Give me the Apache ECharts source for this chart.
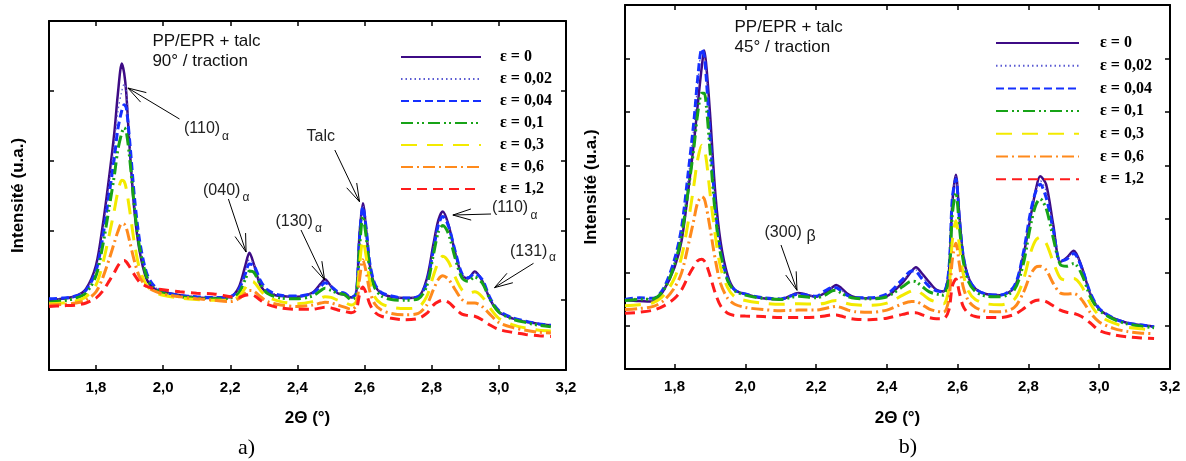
<!DOCTYPE html>
<html><head><meta charset="utf-8">
<script src="https://cdn.jsdelivr.net/npm/echarts@6/dist/echarts.min.js"></script>
<style>html,body{margin:0;padding:0;background:#fff}#c{width:1186px;height:461px}</style>
</head><body><div id="c"></div>
<script>
// shared 2θ sample positions
const X = [1.66,1.70,1.74,1.77,1.80,1.82,1.84,1.855,1.865,1.877,
  1.884,1.89,1.90,1.915,1.93,1.95,1.97,2.00,2.05,2.10,
  2.15,2.20,2.225,2.245,2.257,2.27,2.29,2.31,2.35,2.40,
  2.445,2.47,2.482,2.50,2.52,2.54,2.56,2.575,2.585,2.595,
  2.605,2.615,2.63,2.65,2.68,2.72,2.76,2.785,2.805,2.82,
  2.833,2.85,2.87,2.89,2.908,2.928,2.95,2.975,3.00,3.04,
  3.08,3.12,3.155];

const names = ['ε = 0','ε = 0,02','ε = 0,04','ε = 0,1','ε = 0,3','ε = 0,6','ε = 1,2'];

// Panel a) 90° / traction
const A_e0 = [1.00,1.02,1.06,1.16,1.50,2.07,2.80,3.42,3.95,4.39,
  4.25,3.98,3.20,2.25,1.70,1.31,1.18,1.12,1.07,1.04,
  1.03,1.05,1.18,1.50,1.68,1.52,1.21,1.11,1.06,1.05,
  1.11,1.24,1.30,1.20,1.10,1.08,1.04,1.10,1.95,2.39,
  2.00,1.52,1.22,1.10,1.05,1.03,1.05,1.30,1.80,2.15,
  2.27,2.08,1.68,1.36,1.31,1.41,1.28,1.00,0.83,0.74,
  0.69,0.66,0.64];
const A_e002 = [1.01,1.02,1.06,1.15,1.45,1.98,2.70,3.25,3.70,4.00,
  4.10,4.02,3.35,2.40,1.80,1.38,1.21,1.12,1.07,1.05,
  1.04,1.05,1.16,1.42,1.58,1.52,1.26,1.14,1.07,1.06,
  1.10,1.22,1.27,1.20,1.11,1.09,1.04,1.10,1.92,2.36,
  2.02,1.54,1.23,1.11,1.06,1.03,1.05,1.27,1.76,2.10,
  2.22,2.07,1.69,1.37,1.32,1.39,1.29,1.01,0.84,0.75,
  0.70,0.66,0.64];
const A_e004 = [1.02,1.03,1.06,1.14,1.42,1.90,2.55,3.05,3.45,3.72,
  3.80,3.76,3.30,2.45,1.85,1.40,1.22,1.12,1.07,1.05,
  1.04,1.05,1.15,1.38,1.52,1.50,1.28,1.15,1.07,1.06,
  1.10,1.20,1.25,1.20,1.12,1.10,1.04,1.10,1.90,2.34,
  2.02,1.55,1.24,1.11,1.06,1.03,1.05,1.25,1.72,2.08,
  2.20,2.06,1.70,1.38,1.32,1.38,1.30,1.02,0.85,0.75,
  0.70,0.66,0.64];
const A_e01 = [0.97,0.99,1.03,1.10,1.35,1.78,2.35,2.80,3.15,3.40,
  3.47,3.42,3.05,2.30,1.75,1.35,1.18,1.10,1.05,1.03,
  1.02,1.03,1.10,1.30,1.42,1.40,1.22,1.10,1.03,1.02,
  1.06,1.14,1.17,1.14,1.10,1.08,1.01,1.06,1.75,2.20,
  1.90,1.45,1.18,1.06,1.01,1.00,1.02,1.20,1.65,1.98,
  2.07,1.95,1.60,1.32,1.27,1.33,1.25,1.00,0.83,0.73,
  0.68,0.64,0.62];
const A_e03 = [0.95,0.96,0.99,1.05,1.22,1.52,1.95,2.30,2.55,2.72,
  2.70,2.60,2.30,1.80,1.45,1.22,1.13,1.07,1.03,1.01,
  1.00,1.00,1.05,1.18,1.27,1.26,1.14,1.05,0.98,0.95,
  0.98,1.03,1.05,1.04,1.00,0.97,0.93,0.98,1.50,1.86,
  1.62,1.28,1.05,0.95,0.90,0.88,0.90,1.05,1.35,1.55,
  1.63,1.55,1.33,1.15,1.10,1.12,1.05,0.88,0.74,0.65,
  0.60,0.57,0.56];
const A_e06 = [0.93,0.94,0.96,1.00,1.12,1.32,1.60,1.83,1.98,2.10,
  2.09,2.04,1.85,1.55,1.33,1.20,1.14,1.09,1.05,1.02,
  1.00,0.98,1.02,1.10,1.14,1.13,1.05,0.98,0.93,0.91,
  0.93,0.96,0.97,0.96,0.93,0.90,0.87,0.92,1.30,1.58,
  1.40,1.14,0.95,0.86,0.81,0.79,0.81,0.93,1.15,1.30,
  1.35,1.30,1.15,1.01,0.96,0.96,0.91,0.79,0.68,0.61,
  0.57,0.54,0.53];
const A_e12 = [0.91,0.92,0.93,0.96,1.03,1.13,1.28,1.40,1.49,1.56,
  1.57,1.55,1.48,1.36,1.26,1.20,1.17,1.15,1.12,1.10,
  1.09,1.05,1.04,1.07,1.08,1.07,1.00,0.94,0.89,0.87,
  0.87,0.89,0.90,0.89,0.86,0.84,0.82,0.86,1.08,1.19,
  1.10,0.95,0.83,0.77,0.74,0.72,0.74,0.81,0.93,0.98,
  1.00,0.97,0.88,0.80,0.78,0.77,0.72,0.64,0.58,0.54,
  0.51,0.49,0.48];

// Panel b) 45° / traction
const B_e0 = [1.49,1.47,1.46,1.68,2.10,2.60,3.60,4.45,5.10,5.85,
  6.15,5.85,5.00,3.50,2.58,1.95,1.68,1.60,1.52,1.50,
  1.62,1.55,1.62,1.72,1.77,1.72,1.60,1.54,1.52,1.56,
  1.82,2.03,2.10,1.98,1.82,1.68,1.65,2.00,3.30,3.83,
  3.05,2.35,1.92,1.70,1.60,1.58,1.72,2.30,3.00,3.52,
  3.80,3.65,2.90,2.20,2.28,2.41,2.12,1.60,1.32,1.15,
  1.06,1.02,0.99];
const B_e002 = [1.50,1.52,1.51,1.70,2.20,2.78,3.85,4.75,5.50,6.15,
  6.10,5.70,4.75,3.35,2.45,1.90,1.69,1.60,1.53,1.51,
  1.61,1.56,1.64,1.72,1.74,1.68,1.58,1.53,1.53,1.58,
  1.85,2.03,2.05,1.92,1.77,1.67,1.64,2.02,3.35,3.80,
  3.05,2.37,1.91,1.70,1.60,1.58,1.73,2.32,3.05,3.52,
  3.72,3.52,2.85,2.21,2.26,2.38,2.11,1.61,1.33,1.15,
  1.06,1.02,0.99];
const B_e004 = [1.50,1.53,1.52,1.72,2.25,2.85,3.95,4.85,5.60,6.18,
  6.05,5.60,4.60,3.25,2.40,1.88,1.68,1.60,1.53,1.51,
  1.60,1.56,1.66,1.72,1.72,1.66,1.57,1.53,1.53,1.60,
  1.88,2.03,2.02,1.88,1.74,1.66,1.64,2.05,3.40,3.75,
  3.00,2.35,1.90,1.70,1.60,1.58,1.75,2.35,3.10,3.50,
  3.65,3.40,2.80,2.22,2.25,2.36,2.10,1.62,1.33,1.15,
  1.06,1.02,0.99];
const B_e01 = [1.48,1.50,1.51,1.68,2.15,2.70,3.60,4.35,4.95,5.35,
  5.35,5.10,4.30,3.10,2.35,1.85,1.66,1.58,1.52,1.50,
  1.56,1.53,1.58,1.66,1.67,1.62,1.55,1.52,1.51,1.55,
  1.74,1.84,1.83,1.74,1.64,1.60,1.58,1.90,3.10,3.49,
  2.85,2.25,1.84,1.65,1.56,1.55,1.68,2.15,2.85,3.25,
  3.38,3.20,2.65,2.15,2.12,2.17,1.98,1.55,1.30,1.13,
  1.04,1.00,0.97];
const B_e03 = [1.38,1.40,1.44,1.58,1.90,2.30,3.00,3.65,4.10,4.38,
  4.30,4.10,3.50,2.70,2.10,1.72,1.55,1.48,1.43,1.41,
  1.42,1.41,1.43,1.47,1.48,1.46,1.42,1.40,1.39,1.43,
  1.58,1.66,1.67,1.60,1.50,1.45,1.42,1.70,2.60,2.97,
  2.50,2.00,1.66,1.50,1.42,1.40,1.50,1.85,2.35,2.60,
  2.66,2.55,2.20,1.90,1.86,1.89,1.75,1.42,1.20,1.06,
  0.98,0.95,0.93];
const B_e06 = [1.31,1.33,1.37,1.48,1.72,2.00,2.55,3.00,3.30,3.42,
  3.38,3.22,2.85,2.25,1.80,1.52,1.41,1.35,1.31,1.29,
  1.30,1.30,1.33,1.36,1.37,1.35,1.30,1.27,1.26,1.30,
  1.42,1.46,1.46,1.40,1.32,1.28,1.26,1.50,2.25,2.55,
  2.15,1.75,1.48,1.35,1.28,1.27,1.35,1.62,1.95,2.10,
  2.12,2.05,1.80,1.62,1.60,1.61,1.50,1.25,1.08,0.96,
  0.90,0.87,0.86];
const B_e12 = [1.24,1.26,1.30,1.38,1.52,1.68,1.95,2.12,2.22,2.25,
  2.22,2.15,1.95,1.62,1.38,1.24,1.20,1.19,1.18,1.16,
  1.16,1.17,1.19,1.21,1.21,1.19,1.15,1.13,1.12,1.15,
  1.22,1.25,1.25,1.21,1.16,1.14,1.14,1.30,1.75,1.88,
  1.62,1.38,1.24,1.18,1.16,1.16,1.22,1.32,1.43,1.48,
  1.49,1.46,1.38,1.30,1.26,1.24,1.18,1.06,0.92,0.84,
  0.80,0.78,0.77];

const xTicks = [1.8,2.0,2.2,2.4,2.6,2.8,3.0,3.2];
const yTicksA = [1,2,3,4];
const yTicksB = [1,2,3,4,5,6];

const seriesA = [A_e0,A_e002,A_e004,A_e01,A_e03,A_e06,A_e12];
const seriesB = [B_e0,B_e002,B_e004,B_e01,B_e03,B_e06,B_e12];

const styles = [
  {color:'#3d0b85', width:2.5, type:'solid'},
  {color:'#5a5ad2', width:1.3, type:[1.5,3]},
  {color:'#1530ff', width:3, type:[8,4]},
  {color:'#17a317', width:3, type:[12,4,2,3,2,4]},
  {color:'#f3ea00', width:3, type:[16,10]},
  {color:'#ff8a1c', width:3, type:[12,4,2,4]},
  {color:'#ff1c1c', width:3, type:[10,6]}
];

const SANS = 'Liberation Sans, Arial, sans-serif';
const SERIF = 'Liberation Serif, Times New Roman, serif';

function xAx(grid, pos, show, gap){
  return {
    gridIndex:grid, type:'value', min:1.66, max:3.2, position:pos,
    axisLine:{show:true, onZero:false, lineStyle:{color:'#000', width:2}},
    axisTick:{show:true, inside:true, length:5, customValues:xTicks, lineStyle:{color:'#000', width:1.5}},
    axisLabel:{show:show, customValues:xTicks, margin:10,
      formatter:v=>v.toFixed(1).replace('.',','),
      fontFamily:SANS, fontWeight:'bold', fontSize:15, color:'#000'},
    splitLine:{show:false},
    name: show ? '2Θ (°)' : '', nameLocation:'middle', nameGap:gap,
    nameTextStyle:{fontFamily:SANS, fontWeight:'bold', fontSize:17, color:'#000'}
  };
}
function yAx(grid, pos, min, max, ticks, gap){
  return {
    gridIndex:grid, type:'value', min:min, max:max, position:pos,
    axisLine:{show:true, onZero:false, lineStyle:{color:'#000', width:2}},
    axisTick:{show:true, inside:true, length:5, customValues:ticks, lineStyle:{color:'#000', width:1.5}},
    axisLabel:{show:false},
    splitLine:{show:false},
    name: pos==='left' ? 'Intensité (u.a.)' : '', nameLocation:'middle', nameGap:gap,
    nameTextStyle:{fontFamily:SANS, fontWeight:'bold', fontSize:17, color:'#000'}
  };
}

function mk(arrs, gi){
  return arrs.map((arr,k)=>({
    type:'line', name:names[k], xAxisIndex:gi*2, yAxisIndex:gi*2,
    data:X.map((x,i)=>[x, arr[i]]),
    showSymbol:false, symbol:'none', smooth:0.3,
    legendIcon:'line',
    lineStyle:{color:styles[k].color, width:styles[k].width, type:styles[k].type, cap:'butt'},
    itemStyle:{color:styles[k].color},
    silent:true, animation:false
  }));
}

const legendBase = {
  data:names, orient:'vertical', selectedMode:false, itemHeight:14,
  itemStyle:{opacity:0},
  textStyle:{fontFamily:SERIF, fontWeight:'bold', fontSize:16, color:'#000'}
};

const chart = echarts.init(document.getElementById('c'), null, {renderer:'canvas'});
chart.setOption({
  animation:false,
  backgroundColor:'#fff',
  grid:[
    {left:49, top:21, width:517, height:349},
    {left:625, top:5, width:545, height:364}
  ],
  xAxis:[xAx(0,'bottom',true,40), xAx(0,'top',false,0), xAx(1,'bottom',true,41), xAx(1,'top',false,0)],
  yAxis:[yAx(0,'left',0,5,yTicksA,22), yAx(0,'right',0,5,yTicksA,0),
         yAx(1,'left',0.2,7,yTicksB,25), yAx(1,'right',0.2,7,yTicksB,0)],
  legend:[
    Object.assign({}, legendBase, {left:395, top:44, itemWidth:80, itemGap:6,
      textStyle:Object.assign({}, legendBase.textStyle, {padding:[0,0,0,14]})}),
    Object.assign({}, legendBase, {left:990, top:30, itemWidth:83, itemGap:6.7,
      textStyle:Object.assign({}, legendBase.textStyle, {padding:[0,0,0,16]})})
  ],
  series: mk(seriesA,0).concat(mk(seriesB,1))
});

// annotations: text layout in px, arrow tips in data coordinates
const annA = [
  {t:'(110)', sub:'α', tx:184, ty:129, sx:222, sy:137, tail:[179.5,119], tip:[1.895,4.04]},
  {t:'(040)', sub:'α', tx:203, ty:191, sx:242.5, sy:198, tail:[228.4,199], tip:[2.247,1.69]},
  {t:'(130)', sub:'α', tx:275.4, ty:222, sx:315, sy:229, tail:[301,230], tip:[2.481,1.29]},
  {t:'Talc', tx:306.6, ty:137, tail:[334.8,150], tip:[2.585,2.41]},
  {t:'(110)', sub:'α', tx:492, ty:208, sx:530.5, sy:216, tail:[491,214], tip:[2.863,2.22]},
  {t:'(131)', sub:'α', tx:510, ty:252, sx:549, sy:258, tail:[533.5,263.3], tip:[2.987,1.18]}
];
const annB = [
  {t:'(300)', sub:'β', tx:764.5, ty:233, sx:806.5, sy:237, subSize:16, tail:[781,245], tip:[2.146,1.67]}
];

const g = [];
function txt(x,y,s,size,font,weight,color,align){
  g.push({type:'text', x:x, y:y, silent:true, z:100,
    style:{text:s, fontSize:size, fontFamily:font, fontWeight:weight||'normal', fill:color||'#111',
      align:align||'left', verticalAlign:'middle'}});
}
function arrow(tail, tip){
  g.push({type:'polyline', silent:true, z:100, shape:{points:[tail, tip]}, style:{stroke:'#000', lineWidth:1, fill:null}});
  const ang = Math.atan2(tail[1]-tip[1], tail[0]-tip[0]);
  const L = 19, d = 17*Math.PI/180;
  const b1 = [tip[0]+L*Math.cos(ang+d), tip[1]+L*Math.sin(ang+d)];
  const b2 = [tip[0]+L*Math.cos(ang-d), tip[1]+L*Math.sin(ang-d)];
  g.push({type:'polyline', silent:true, z:100, shape:{points:[b1, tip, b2]}, style:{stroke:'#000', lineWidth:1, fill:null}});
}
function ann(list, gi){
  list.forEach(a=>{
    txt(a.tx, a.ty, a.t, 16, SANS, 'normal', '#222');
    if (a.sub) txt(a.sx, a.sy, a.sub, a.subSize||12, SANS, 'normal', '#222');
    const tip = chart.convertToPixel({gridIndex:gi}, a.tip);
    arrow(a.tail, tip);
  });
}
ann(annA, 0);
ann(annB, 1);

txt(152.4, 41, 'PP/EPR + talc', 17, SANS, 'normal', '#111');
txt(152.4, 61, '90° / traction', 17, SANS, 'normal', '#111');
txt(734.5, 27, 'PP/EPR + talc', 17, SANS, 'normal', '#111');
txt(734.5, 47, '45° / traction', 17, SANS, 'normal', '#111');
txt(246.5, 448, 'a)', 22, SERIF, 'normal', '#000', 'center');
txt(908, 447, 'b)', 22, SERIF, 'normal', '#000', 'center');

chart.setOption({graphic:g});
</script>
</body></html>
